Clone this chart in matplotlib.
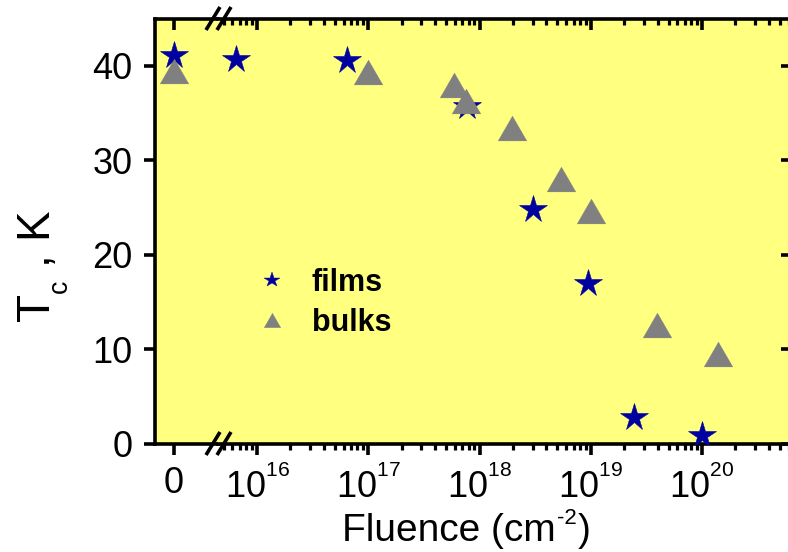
import numpy as np
import matplotlib
matplotlib.use("Agg")
import matplotlib.pyplot as plt
from matplotlib.path import Path
from matplotlib.lines import Line2D
from matplotlib.ticker import FixedLocator, LogLocator, FuncFormatter, NullFormatter

# smaller, higher superscripts and lower subscripts in the mathtext labels
try:
    import matplotlib._mathtext as _mt
    _mt.SHRINK_FACTOR = 0.58
    _mt.FontConstantsBase.sup1 = 1.05
    _mt.FontConstantsBase.sub1 = 0.75
except Exception:
    pass

plt.rcParams['font.family'] = ['Liberation Sans', 'DejaVu Sans']
plt.rcParams['mathtext.fontset'] = 'custom'
plt.rcParams['mathtext.rm'] = 'Liberation Sans'
plt.rcParams['mathtext.it'] = 'Liberation Sans:italic'
plt.rcParams['mathtext.bf'] = 'Liberation Sans:bold'
plt.rcParams['mathtext.default'] = 'regular'

# ---- data -------------------------------------------------------------
films_fluence = [0, 6.5e15, 6.5e16, 7.7e17, 3.0e18, 9.4e18, 2.47e19, 1.0e20]
films_tc = [41.1, 40.7, 40.6, 35.7, 24.8, 17.0, 2.85, 0.9]

bulks_fluence = [0, 1.0e17, 5.9e17, 7.6e17, 1.95e18, 5.4e18, 1.0e19, 3.9e19, 1.38e20]
bulks_tc = [39.4, 39.3, 38.0, 36.3, 33.4, 28.0, 24.6, 12.5, 9.5]

series_labels = ['films', 'bulks']
y_ticks = [0, 10, 20, 30, 40]
x_decades = [16, 17, 18, 19, 20]

# ---- style ------------------------------------------------------------
STAR_C = '#0000A0'
TRI_C = '#808080'
BG = '#FFFF80'
SPINE_W = 2.6
TICK_FS = 26

# equilateral triangle marker
TRI = Path([(-1, -0.866), (1, -0.866), (0, 0.866), (-1, -0.866)],
           [Path.MOVETO, Path.LINETO, Path.LINETO, Path.CLOSEPOLY])

W, H = 788, 552
fig = plt.figure(figsize=(W / 100, H / 100), dpi=100)


def px_rect(x0, x1, y_top, y_bot):
    return [x0 / W, 1 - y_bot / H, (x1 - x0) / W, (y_bot - y_top) / H]


Y_TOP, Y_BOT = 18.5, 443.5
X_LEFT, X_BREAK, X_RIGHT = 154.5, 218.0, 792.0
DEC_PX = 111.25          # pixels per decade on the log segment
X_1E16 = 257.0

rect0 = px_rect(X_LEFT, X_BREAK, Y_TOP, Y_BOT)
rect1 = px_rect(X_BREAK, X_RIGHT, Y_TOP, Y_BOT)

ax0 = fig.add_axes(rect0)
ax1 = fig.add_axes(rect1, sharey=ax0)
ax1.set_xscale('log')

for ax in (ax0, ax1):
    ax.set_facecolor(BG)
    for s in ax.spines.values():
        s.set_linewidth(SPINE_W)
ax0.spines['right'].set_visible(False)
ax1.spines['left'].set_visible(False)

ax0.set_xlim(-0.3, 0.7)
ax0.set_ylim(0, 45)
lo = 16 - (X_1E16 - X_BREAK) / DEC_PX
hi = 20 + (X_RIGHT - (X_1E16 + 4 * DEC_PX)) / DEC_PX
ax1.set_xlim(10 ** lo, 10 ** hi)

# ---- data marks -------------------------------------------------------
ff = np.array(films_fluence, dtype=float)
ft = np.array(films_tc, dtype=float)
bf = np.array(bulks_fluence, dtype=float)
bt = np.array(bulks_tc, dtype=float)

star_kw = dict(ls='none', marker='*', ms=20.5, color=STAR_C, mec=STAR_C, mew=0.4)
tri_kw = dict(ls='none', marker=TRI, ms=20.7, color=TRI_C, mec=TRI_C, mew=0.2)

for ax, sel_f, sel_b in ((ax0, ff == 0, bf == 0), (ax1, ff > 0, bf > 0)):
    ax.plot(ff[sel_f], ft[sel_f], zorder=3, **star_kw)
    ax.plot(bf[sel_b], bt[sel_b], zorder=4, **tri_kw)

# ---- ticks --------------------------------------------------------------
MAJ = dict(length=8, width=SPINE_W)
MIN = dict(length=4.5, width=2.3)

ax0.xaxis.set_major_locator(FixedLocator([0]))
ax0.xaxis.set_major_formatter(FuncFormatter(lambda v, p: '0'))
ax0.xaxis.set_minor_locator(FixedLocator([]))
ax0.yaxis.set_major_locator(FixedLocator(y_ticks))
ax0.yaxis.set_minor_locator(FixedLocator([]))
ax0.tick_params(axis='both', which='major', direction='out', labelsize=TICK_FS,
                pad=8, top=False, right=False, **MAJ)

ax1.xaxis.set_major_locator(FixedLocator([10.0 ** d for d in x_decades]))
ax1.xaxis.set_major_formatter(
    FuncFormatter(lambda v, p: r'$10^{%d}$' % int(round(np.log10(v)))))
ax1.xaxis.set_minor_locator(LogLocator(base=10, subs=np.arange(2, 10), numticks=50))
ax1.xaxis.set_minor_formatter(NullFormatter())
ax1.tick_params(axis='x', which='major', direction='out', labelsize=TICK_FS,
                pad=8, top=False, **MAJ)
ax1.tick_params(axis='x', which='minor', direction='out', top=False, **MIN)
ax1.tick_params(axis='y', which='both', left=False, right=False,
                labelleft=False, labelright=False)

# inward ticks on the top and right edges
top0 = fig.add_axes(rect0, sharex=ax0, sharey=ax0, frameon=False, label='top0')
top0.tick_params(axis='both', which='both', direction='in', bottom=False, left=False,
                 right=False, top=True, labelbottom=False, labelleft=False, **MAJ)
top0.tick_params(axis='y', left=False, right=False)

top1 = fig.add_axes(rect1, sharex=ax1, sharey=ax1, frameon=False, label='top1')
top1.tick_params(axis='x', which='major', direction='in', bottom=False, top=True,
                 labelbottom=False, **MAJ)
top1.tick_params(axis='x', which='minor', direction='in', bottom=False, top=True, **MIN)
top1.tick_params(axis='y', which='major', direction='in', left=False, right=True,
                 labelleft=False, labelright=False, **MAJ)
for a in (top0, top1):
    a.patch.set_visible(False)

# ---- axis break marks -------------------------------------------------
for yb in (Y_TOP, Y_BOT):
    for cx in (213.0, 224.0):
        fig.add_artist(Line2D([(cx - 7) / W, (cx + 7) / W],
                              [1 - (yb + 11.5) / H, 1 - (yb - 11.5) / H],
                              transform=fig.transFigure, color='black',
                              lw=SPINE_W, solid_capstyle='butt', zorder=10))

# ---- x label: "Fluence (cm" + raised "-2" + ")" laid out side by side ----
renderer = fig.canvas.get_renderer()
XL_CX, XL_BASE = 466.5, 541.0      # centre and baseline, pixels from top-left
XL_FS, SUP_FS, SUP_RAISE = 28, 16, 17.5
parts = [('Fluence (cm', XL_FS, 0.0), ('-2', SUP_FS, SUP_RAISE), (')', XL_FS, 0.0)]
texts = [fig.text(0, 0, s, fontsize=fs, ha='left', va='baseline') for s, fs, _ in parts]
widths = [t.get_window_extent(renderer).width for t in texts]
gaps = [0.0, 1.0, 1.0]
xcur = XL_CX - (sum(widths) + sum(gaps)) / 2
for t, w, g, (_, _, raise_px) in zip(texts, widths, gaps, parts):
    xcur += g
    t.set_position((xcur / W, 1 - (XL_BASE - raise_px) / H))
    xcur += w

fig.text(43.5 / W, 1 - 266 / H, r'T$_c$ , K', fontsize=33, rotation=90,
         ha='center', va='center')

# ---- legend -------------------------------------------------------------
handles = [Line2D([], [], ls='none', marker='*', ms=11.4, color=STAR_C, mec=STAR_C, mew=0.3),
           Line2D([], [], ls='none', marker=TRI, ms=12, color=TRI_C, mec=TRI_C, mew=0.2)]
ax1.legend(handles, series_labels, loc='upper left',
           bbox_to_anchor=(256.5 / W, 1 - 268 / H), bbox_transform=fig.transFigure,
           frameon=False, borderpad=0, borderaxespad=0, handlelength=1.0,
           handletextpad=0.8, labelspacing=0.33, numpoints=1,
           prop={'weight': 'bold', 'size': 22})

fig.savefig('out.png', dpi=100)
